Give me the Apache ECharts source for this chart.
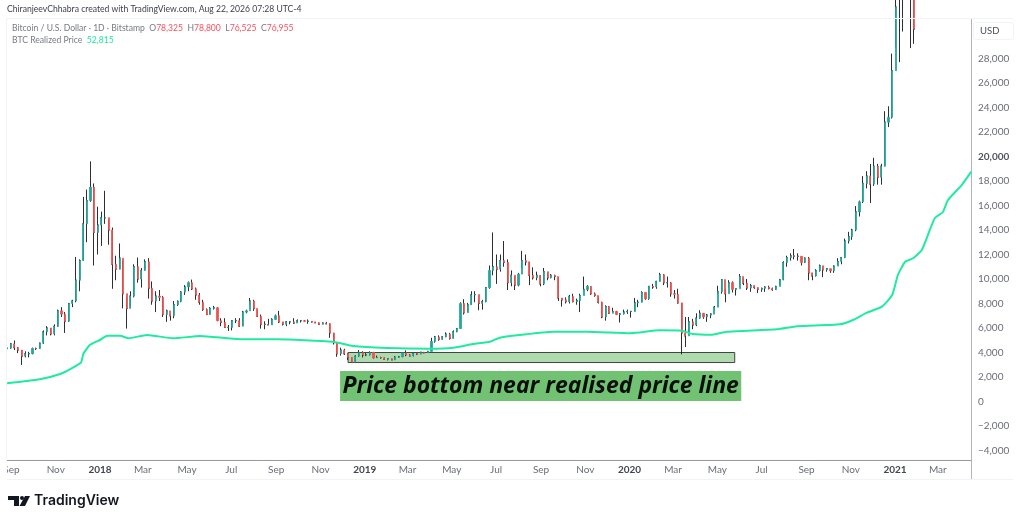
<!DOCTYPE html>
<html>
<head>
<meta charset="utf-8">
<style>html,body{margin:0;padding:0;background:#fff}#c{width:1024px;height:522px}</style>
<script src="https://cdn.jsdelivr.net/npm/echarts@6/dist/echarts.min.js"></script>
</head>
<body>
<div id="c"></div>
<script>
// Five-day BTC/USD bars, by year, starting 2017-08-26
const barStart = '2017-08-26';
const firstOpen = 4300;
const close2017 = [4350,4700,4400,4200,3700,3900,3900,4330,4320,4760,5680,6000,5520,6130,7400,7130,6550,8000,8200,9900,11500,14500,16400,17500,13800,14400];
const high2017  = [4400,4750,4980,4450,4200,4100,4050,4400,4400,4800,5800,6150,6000,6300,7500,7700,7300,8050,8300,11800,11600,16700,17300,19600,17800,15900];
const low2017   = [4200,4300,4200,3950,2980,3600,3600,3850,4200,4300,4700,5400,5400,5400,6100,6900,5600,6500,7700,8100,9000,11500,13000,16300,11100,12000];
const close2018 = [15000,15000,14000,11200,10800,11700, 8800,7600,8600,11000,10000,10700, 11400,9250,8200,8600,8500,7100, 7400,7000,7900,8170,8930,9350, 9700,9200,8700,8100,7500,7100, 7600,7650,6600,6450,6050,6050, 6600,6600,6150,7300,7400,8200, 7600,6950,6300,6300,6250,6700,7000, 6500,6300,6500,6500,6400,6600, 6600,6550,6550,6500,6430,6300, 6400,6350,5600,4800,3900,4200, 3900,3600,3200,3700,4000,3800];
const high2018  = [15500,17200,14800,14200,11900,12900, 11500,8500,9000,11200,11750,10900, 11600,11700,9800,9000,9100,8600, 7500,7100,8200,8250,9000,9500, 9800,9950,9300,8850,8300,7600, 7700,7800,7700,6800,6800,6250, 6650,6800,6800,7400,7500,8450, 8300,7500,7100,6550,6750,6800,7100, 7400,6450,6550,6550,6800,6700, 6650,6650,6700,6550,6480,6450, 6450,6500,6380,5600,4800,4400, 4300,3950,3600,3750,4200,4100];
const low2018   = [12700,14500,12800,9200,9900,10800, 7600,5950,7700,8500,9700,9300, 10700,8400,7900,7300,8200,6900, 6500,6600,6800,7800,8100,8700, 9000,9100,8300,7900,7400,7050, 7100,7500,6550,6150,6000,5750, 5800,6400,6100,6150,7200,7900, 7400,6900,5950,5900,6250,6300,6700, 6400,6200,6150,6300,6350,6450, 6450,6500,6350,6450,6400,6250, 6300,6300,5200,4650,3650,3750, 3800,3400,3180,3150,3650,3600];
const close2019 = [3800,4000,3550,3600,3580,3430, 3500,3400,3620,3650,3970,3820, 3720,3930,3870,4020,3980,4090, 4900,5270,5070,5270,5500,5150, 5700,5950,8000,7250,7900,8700, 8730,8000,8150,9300,10700,11000, 10800,11500,11350,9700,10300,9500, 10400,11500,11400,10300,10100,10300,9600, 10600,10100,10300,10200,8450,8300, 8150,8580,8150,8230,8650,9150, 9400,8800,8650,8100,6900,7750, 7200,7350,7100,7150,7300,7350];
const high2019  = [3950,4100,4050,3750,3650,3600, 3520,3500,3700,3700,4000,4180, 3880,3950,3950,4050,4050,4130, 5200,5350,5400,5320,5650,5600, 5800,6000,8100,8350,8050,9000, 9000,8300,8300,9350,11100,13800, 12000,12000,13100,11600,10700,10200, 10500,12300,12000,11400,10950,10600,10300, 10900,10500,10400,10350,10100,8400, 8500,8700,8800,8400,8800,10200, 9500,9400,8900,8600,8150,7850, 7800,7650,7400,7200,7500,7500];
const low2019   = [3700,3750,3500,3550,3500,3400, 3350,3380,3380,3580,3620,3700, 3690,3680,3810,3860,3940,3960, 4100,4800,4950,5050,5250,5050, 5150,5650,5950,7100,7300,7900, 8100,7450,7500,8100,9200,10300, 9600,10600,11000,9100,9400,9100, 9400,10900,11100,9500,9950,9900,9400, 9500,9900,10050,9900,8200,7750, 8000,8000,8100,7900,7300,9000, 9000,8700,8550,8000,6800,6600, 7150,7300,7050,6450,7100,7150];
const close2020 = [7350,8050,8100,8900,8380,9400, 9350,9800,10350,9700,9700,8800, 8750,8050,5600,5350,6500,6250, 6800,7200,6900,7050,7130,7700, 8970,9950,8800,9700,9150,9200, 10200,9670,9270,9460,9300,9150, 9230,9340,9230,9130,9390,9930,11350, 11750,11900,11850,11850,11350,11700, 10500,10250,10680,11080,10750,10840, 10670,11050,11430,11750,13100,13450, 14000,15480,16300,17800,18400,17750, 19200,18300,19200,22800,23200,27000];
const high2020  = [7400,8450,8300,9000,8900,9400, 9600,9850,10500,10400,10200,9750, 9100,9200,8050,6900,6900,6750, 7200,7450,7200,7150,7200,7800, 9450,10000,9200,9900,9800,9200, 10400,10000,10000,9600,9450,9300, 9300,9400,9450,9300,9450,10000,11450, 11900,12100,12450,12100,11850,11750, 11800,10500,10800,11180,11000,10900, 10800,11100,11700,11800,13300,13850, 14100,15950,16400,18400,18800,19400, 19900,19400,19400,23700,24100,28400];
const low2020   = [6850,7350,7700,8100,8300,8300, 9200,9200,9800,9500,9300,8550, 8400,8000,3850,4450,5700,5900, 6150,6750,6750,6500,6800,7400, 8700,8800,8100,9300,8900,8650, 9400,9500,9100,8950,9200,8850, 8950,8950,9150,9050,9100,9500,9900, 11000,11500,11600,11500,11100,11300, 9900,9900,10200,10600,10150,10600, 10500,10500,11150,11200,11700,12900, 13200,13900,15100,16200,17400,16200, 17600,17700,17700,19200,22400,23100];
const close2021 = [32200,39400,34000,35800,33000,30400];
const high2021  = [33300,40400,41900,40100,37800,34800];
const low2021   = [28900,27700,30200,32500,28850,29200];

// BTC Realized Price line
const realizedDates = ['2017-08-26','2017-10-10','2017-11-07','2017-11-23','2017-12-06','2017-12-09','2017-12-18','2018-01-01','2018-01-11','2018-01-29','2018-02-09','2018-03-07','2018-04-12','2018-05-19','2018-07-13','2018-09-02','2018-11-18','2018-12-16','2019-02-01','2019-04-01','2019-05-03','2019-05-30','2019-06-23','2019-07-06','2019-08-03','2019-09-17','2019-11-03','2020-01-02','2020-02-12','2020-03-13','2020-03-28','2020-04-24','2020-05-14','2020-07-22','2020-08-19','2020-10-17','2020-11-04','2020-11-23','2020-12-14','2020-12-28','2021-01-05','2021-01-15','2021-01-26','2021-02-07','2021-02-18','2021-02-25','2021-03-08','2021-03-15','2021-04-03','2021-04-16'];
const realizedValues = [1480,1810,2245,2710,3200,3880,4610,5020,5370,5370,5160,5430,5160,5350,5080,5080,4880,4530,4370,4310,4390,4690,4880,5210,5430,5700,5700,5570,5810,5780,5510,5450,5700,5890,6140,6300,6650,7250,7740,8690,10330,11410,11690,12370,14000,14980,15470,16450,17670,18760];

// Axis tick labels
const monthTicks = [['2017-09-01','Sep'],['2017-11-01','Nov'],['2018-01-01','2018'],['2018-03-01','Mar'],['2018-05-01','May'],['2018-07-01','Jul'],['2018-09-01','Sep'],['2018-11-01','Nov'],['2019-01-01','2019'],['2019-03-01','Mar'],['2019-05-01','May'],['2019-07-01','Jul'],['2019-09-01','Sep'],['2019-11-01','Nov'],['2020-01-01','2020'],['2020-03-01','Mar'],['2020-05-01','May'],['2020-07-01','Jul'],['2020-09-01','Sep'],['2020-11-01','Nov'],['2021-01-01','2021'],['2021-03-01','Mar']];
const priceTicks = [-4000,-2000,0,2000,4000,6000,8000,10000,12000,14000,16000,18000,20000,22000,24000,26000,28000];

// Annotations
const bandRange = {from:'2018-12-09', to:'2020-05-25', low:3180, high:4000};
const noteRange = {from:'2018-11-28', to:'2020-06-03', low:40, high:2490};
const noteText = 'Price bottom near realised price line';

const FONT = 'Lato, "Open Sans", sans-serif';
const ts = s => Date.parse(s + 'T00:00:00Z');
const closes = [...close2017, ...close2018, ...close2019, ...close2020, ...close2021];
const highs = [...high2017, ...high2018, ...high2019, ...high2020, ...high2021];
const lows = [...low2017, ...low2018, ...low2019, ...low2020, ...low2021];
const wickData = [], bodyData = [];
closes.forEach((c, i) => {
  const t = ts(barStart) + i * 5 * 86400000;
  const o = i ? closes[i - 1] : firstOpen;
  wickData.push([t, c, c, lows[i], highs[i]]);
  bodyData.push([t, o, c, Math.min(o, c), Math.max(o, c)]);
});
const tickNames = {};
monthTicks.forEach(m => tickNames[ts(m[0])] = m[1]);

const chart = echarts.init(document.getElementById('c'), null, {renderer: 'canvas'});
chart.setOption({
  animation: false,
  backgroundColor: '#fff',
  grid: {left: 7, top: 19, width: 964, height: 441, containLabel: false},
  xAxis: {
    type: 'value',
    min: Date.parse('2017-08-25T20:00:00Z'),
    max: Date.parse('2021-04-15T17:00:00Z'),
    axisLine: {show: true, onZero: false, lineStyle: {color: '#9598a1', width: 1}},
    axisTick: {show: false},
    splitLine: {show: false},
    axisLabel: {
      customValues: monthTicks.map(m => ts(m[0])),
      hideOverlap: false, margin: 5, showMinLabel: true, showMaxLabel: true,
      formatter: v => {
        const s = tickNames[v] || '';
        return /^\d/.test(s) ? '{y|' + s + '}' : '{m|' + s + '}';
      },
      rich: {
        y: {fontFamily: FONT, fontSize: 10, fontWeight: 700, color: '#434651'},
        m: {fontFamily: FONT, fontSize: 10, color: '#6a6d78'}
      }
    }
  },
  yAxis: {
    type: 'value', position: 'right', min: -4776, max: 31224,
    axisLine: {show: true, onZero: false, lineStyle: {color: '#b2b5be', width: 1}},
    axisTick: {show: false},
    splitLine: {show: false},
    axisLabel: {
      customValues: priceTicks, margin: 7, showMinLabel: true, showMaxLabel: true,
      formatter: v => {
        const s = (v < 0 ? '\u2212' : '') + Math.abs(v).toString().replace(/\B(?=(\d{3})+$)/g, ',');
        return v === 20000 ? '{b|' + s + '}' : '{n|' + s + '}';
      },
      rich: {
        n: {fontFamily: FONT, fontSize: 10, color: '#6a6d78'},
        b: {fontFamily: FONT, fontSize: 10, fontWeight: 700, color: '#50535e'}
      }
    }
  },
  series: [
    {
      type: 'candlestick', name: 'Range', layout: 'horizontal', data: wickData, barWidth: 1.4, z: 3,
      itemStyle: {color: '#16181f', color0: '#16181f', borderColor: '#16181f', borderColor0: '#16181f', borderWidth: 1, opacity: 0.9},
      markArea: {
        silent: true, z: 1,
        data: [
          [{coord: [ts(bandRange.from), bandRange.high], itemStyle: {color: '#afdaad', borderColor: '#3f4440', borderWidth: 1}},
           {coord: [ts(bandRange.to), bandRange.low]}],
          [{coord: [ts(noteRange.from), noteRange.high], itemStyle: {color: '#72c274', borderWidth: 0},
            label: {show: true, position: 'inside', formatter: noteText, fontFamily: '"Open Sans", sans-serif', fontSize: 23, fontWeight: 700, fontStyle: 'italic', color: '#0a0f0a'}},
           {coord: [ts(noteRange.to), noteRange.low]}]
        ]
      }
    },
    {
      type: 'candlestick', name: 'Bitcoin / U.S. Dollar', layout: 'horizontal', data: bodyData, barWidth: 1.6, z: 4,
      itemStyle: {color: '#26a69a', color0: '#ef5350', borderColor: '#26a69a', borderColor0: '#ef5350', borderWidth: 0.8}
    },
    {
      type: 'line', name: 'BTC Realized Price', showSymbol: false, z: 5, smooth: 0.18,
      data: realizedDates.map((d, i) => [ts(d), realizedValues[i]]),
      lineStyle: {color: '#1feb9f', width: 2}
    }
  ],
  graphic: [
    {type: 'rect', z: 50, shape: {x: 0, y: 461, width: 7, height: 18}, style: {fill: '#fff'}},
    {type: 'rect', z: 50, shape: {x: 971, y: 460, width: 1, height: 19}, style: {fill: '#b2b5be'}},
    {type: 'rect', z: 40, shape: {x: 7, y: 18, width: 1006, height: 1}, style: {fill: '#f2f3f5'}},
    {type: 'rect', z: 40, shape: {x: 7, y: 479, width: 1006, height: 1}, style: {fill: '#f2f3f5'}},
    {type: 'rect', z: 40, shape: {x: 6, y: 18, width: 1, height: 461}, style: {fill: '#f2f3f5'}},
    {type: 'text', z: 60, x: 7, y: 5, style: {text: 'ChiranjeevChhabra created with TradingView.com, Aug 22, 2026 07:28 UTC-4', fontFamily: FONT, fontSize: 8.6, fill: '#3c3f48'}},
    {type: 'text', z: 60, x: 12, y: 24, style: {
      text: 'Bitcoin / U.S. Dollar \u00b7 1D \u00b7 Bitstamp  {g|O}{r|78,325}  {g|H}{r|78,800}  {g|L}{r|76,525}  {g|C}{r|76,955}',
      fontFamily: FONT, fontSize: 8.6, fill: '#787b86',
      rich: {g: {fontFamily: FONT, fontSize: 8.6, fill: '#787b86'}, r: {fontFamily: FONT, fontSize: 8.6, fill: '#f7525f'}}
    }},
    {type: 'text', z: 60, x: 12, y: 36, style: {
      text: 'BTC Realized Price  {v|52,815}', fontFamily: FONT, fontSize: 8.6, fill: '#787b86',
      rich: {v: {fontFamily: FONT, fontSize: 8.6, fill: '#1feb9f'}}
    }},
    {type: 'rect', z: 60, shape: {x: 973.5, y: 22.5, width: 40, height: 17, r: 2}, style: {fill: '#fff', stroke: '#f0f3fa'}},
    {type: 'text', z: 61, x: 980, y: 26, style: {text: 'USD', fontFamily: FONT, fontSize: 9.5, fill: '#4a4d57'}},
    {type: 'polygon', z: 60, shape: {points: [[8,496],[19,496],[19,506],[14,506],[14,500],[8,500]]}, style: {fill: '#131722'}},
    {type: 'circle', z: 60, shape: {cx: 22, cy: 498, r: 2}, style: {fill: '#131722'}},
    {type: 'polygon', z: 60, shape: {points: [[25,496],[30,496],[25,506],[19.5,506]]}, style: {fill: '#131722'}},
    {type: 'text', z: 60, x: 34, y: 494, style: {text: 'TradingView', fontFamily: 'Inter, Roboto, sans-serif', fontSize: 14, fontWeight: 600, fill: '#131722'}}
  ]
});
</script>
</body>
</html>
